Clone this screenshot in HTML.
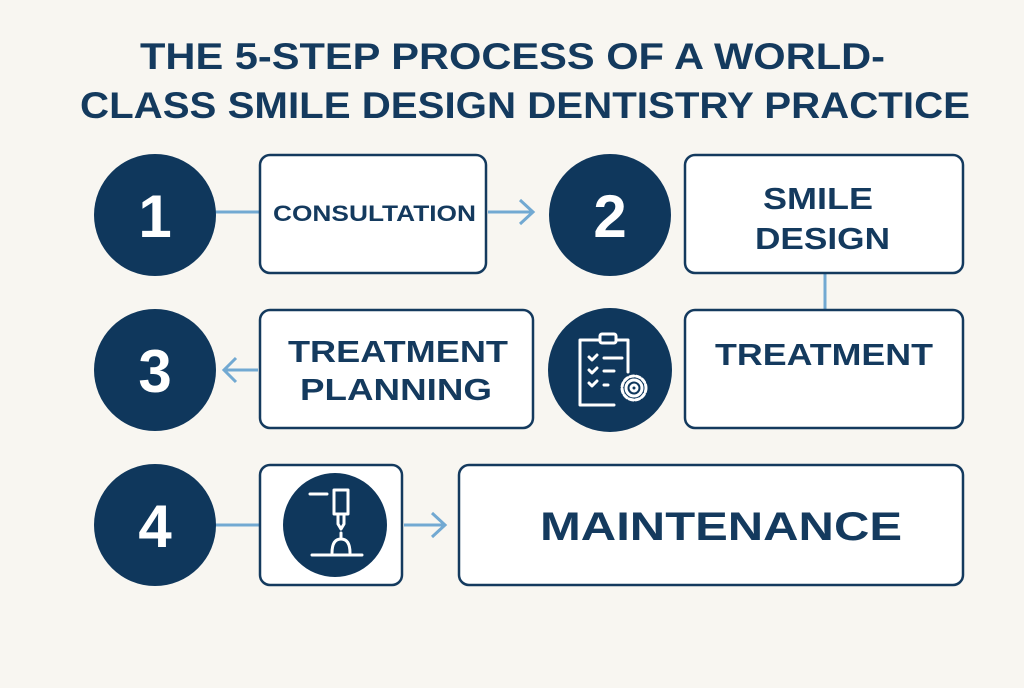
<!DOCTYPE html><html><head><style>
body{margin:0;background:#f8f6f1;}
</style></head><body>
<svg width="1024" height="683" viewBox="0 0 1024 683" xmlns="http://www.w3.org/2000/svg" font-family="Liberation Sans, sans-serif" font-weight="bold">
<rect width="1024" height="683" fill="#f8f6f1"/>
<g fill="#143a5e" font-size="37">
<text x="140" y="69" textLength="745" lengthAdjust="spacingAndGlyphs">THE 5-STEP PROCESS OF A WORLD-</text>
<text x="80" y="118" textLength="890" lengthAdjust="spacingAndGlyphs">CLASS SMILE DESIGN DENTISTRY PRACTICE</text>
</g>
<g stroke="#72a9d2" stroke-width="3" fill="none">
<line x1="215" y1="212" x2="260" y2="212"/>
<line x1="488" y1="212" x2="532" y2="212"/><polyline points="520,200 533,212 520,224"/>
<line x1="825" y1="273" x2="825" y2="310"/>
<line x1="258" y1="370" x2="224" y2="370"/><polyline points="236,358 224,370 236,382"/>
<line x1="215" y1="525" x2="260" y2="525"/>
<line x1="404" y1="525" x2="444" y2="525"/><polyline points="432,513 445,525 432,537"/>
</g>
<g fill="#fff" stroke="#143a5e" stroke-width="2.5">
<rect x="260" y="155" width="226" height="118" rx="10"/>
<rect x="685" y="155" width="278" height="118" rx="10"/>
<rect x="260" y="310" width="273" height="118" rx="10"/>
<rect x="685" y="310" width="278" height="118" rx="10"/>
<rect x="260" y="465" width="142" height="120" rx="10"/>
<rect x="459" y="465" width="504" height="120" rx="10"/>
</g>
<g fill="#0f375c">
<circle cx="155" cy="215" r="61"/><circle cx="610" cy="215" r="61"/>
<circle cx="155" cy="370" r="61"/><circle cx="610" cy="370" r="62"/>
<circle cx="155" cy="525" r="61"/><circle cx="335" cy="525" r="52"/>
</g>
<g fill="#fff" font-size="60" text-anchor="middle">
<text x="155" y="237">1</text><text x="610" y="237">2</text>
<text x="155" y="392">3</text><text x="155" y="547">4</text>
</g>
<g fill="#143a5e">
<text x="273" y="221" font-size="22" textLength="203" lengthAdjust="spacingAndGlyphs">CONSULTATION</text>
<text x="763" y="209" font-size="31" textLength="110" lengthAdjust="spacingAndGlyphs">SMILE</text>
<text x="755" y="249" font-size="31" textLength="135" lengthAdjust="spacingAndGlyphs">DESIGN</text>
<text x="288" y="362" font-size="31" textLength="220" lengthAdjust="spacingAndGlyphs">TREATMENT</text>
<text x="300" y="400" font-size="31" textLength="192" lengthAdjust="spacingAndGlyphs">PLANNING</text>
<text x="715" y="365" font-size="31" textLength="218" lengthAdjust="spacingAndGlyphs">TREATMENT</text>
<text x="540" y="540" font-size="40" textLength="362" lengthAdjust="spacingAndGlyphs">MAINTENANCE</text>
</g>
<g stroke="#fff" stroke-width="3" fill="none" stroke-linecap="round" stroke-linejoin="round">
<path d="M600 340 h-20 v65 h34 M628 372 v-32 h-12"/>
<rect x="600" y="334" width="16" height="9" rx="2"/>
<path d="M589 357 l3 3 l5 -5 M589 370 l3 3 l5 -5 M589 383 l3 3 l5 -5"/>
<path d="M604 358 h18 M604 371 h10 M604 385 h4"/>
<circle cx="634" cy="388" r="12" stroke-dasharray="4 2.5"/><circle cx="634" cy="388" r="8"/><circle cx="634" cy="388" r="3"/>
<path d="M310 494 h17 M334 490 h14 v24 h-14 z M338 514 v10 l3 5 l3 -5 v-10 M341 533 v6 M332 553 q0 -14 9 -14 q9 0 9 14 M312 555 h50"/>
</g>
</svg>
</body></html>
